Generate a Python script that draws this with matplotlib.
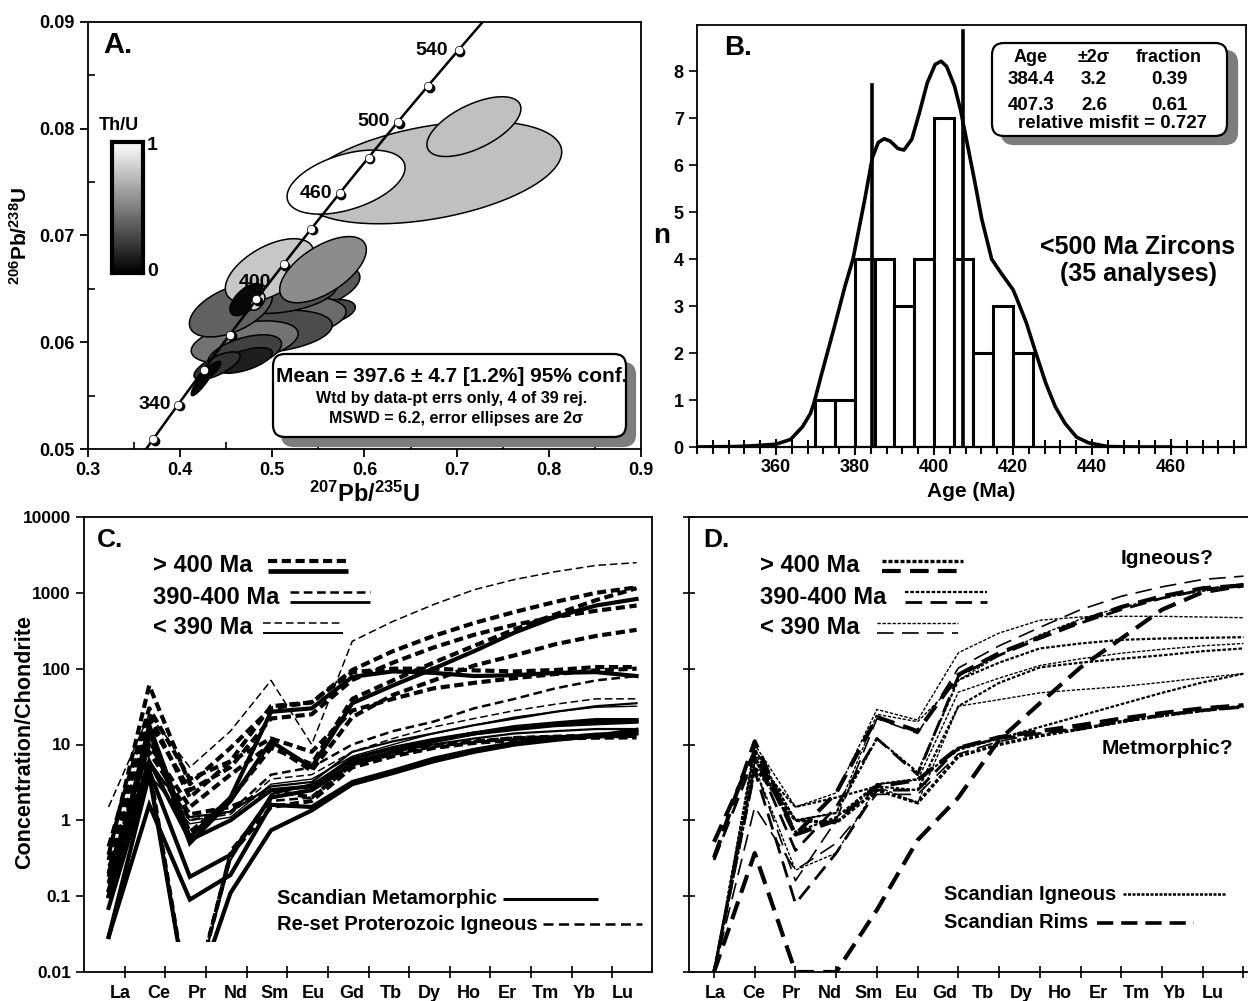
import numpy as np
import matplotlib
matplotlib.use("Agg")
import matplotlib.pyplot as plt
from matplotlib import transforms
from matplotlib.lines import Line2D
from matplotlib.patches import Polygon, FancyBboxPatch, Rectangle

plt.rcParams['font.family'] = ['Liberation Sans', 'DejaVu Sans']
plt.rcParams['font.weight'] = 'bold'
plt.rcParams['axes.labelweight'] = 'bold'
plt.rcParams['axes.linewidth'] = 1.3
plt.rcParams['mathtext.fontset'] = 'custom'
plt.rcParams['mathtext.rm'] = 'Liberation Sans:bold'
plt.rcParams['mathtext.default'] = 'rm'
NARROW = ['Liberation Sans', 'DejaVu Sans']

# ---------------- A: U-Pb concordia ----------------
# 207Pb/235U, 2s, 206Pb/238U, 2s, error correlation, Th/U
pb75 = [0.672, 0.7187, 0.580,
        0.545, 0.560, 0.505, 0.500, 0.470, 0.515, 0.455, 0.470, 0.470, 0.440, 0.432, 0.425,
        0.497, 0.555, 0.472, 0.484]
pb75_err = [0.142, 0.051, 0.064,
            0.050, 0.030, 0.075, 0.065, 0.058, 0.055, 0.045, 0.040, 0.030, 0.025, 0.012, 0.013,
            0.048, 0.047, 0.018, 0.008]
pb68 = [0.0759, 0.0802, 0.0750,
        0.0650, 0.0628, 0.0622, 0.0610, 0.0600, 0.0645, 0.0630, 0.0590, 0.0583, 0.0578, 0.0572, 0.0565,
        0.0667, 0.0668, 0.0640, 0.0638]
pb68_err = [0.0048, 0.0028, 0.0030,
            0.0022, 0.0012, 0.0022, 0.0020, 0.0020, 0.0018, 0.0025, 0.0017, 0.0012, 0.0013, 0.0010, 0.0015,
            0.0030, 0.0031, 0.0015, 0.0008]
rho = [0.4, 0.6, 0.45,
       0.5, 0.4, 0.3, 0.3, 0.4, 0.4, 0.5, 0.5, 0.6, 0.7, 0.85, 0.9,
       0.55, 0.6, 0.6, 0.5]
th_u = [0.75, 0.75, 1.0,
        0.35, 0.28, 0.42, 0.30, 0.45, 0.32, 0.38, 0.25, 0.12, 0.20, 0.02, 0.03,
        0.78, 0.55, 0.03, 0.85]

concordia_ages = [320, 340, 360, 380, 400, 420, 440, 460, 480, 500, 520, 540]
labelled_ages = [340, 400, 460, 500, 540]

mean_text = ["Mean = 397.6 \u00b1 4.7 [1.2%] 95% conf.",
             "Wtd by data-pt errs only, 4 of 39 rej.",
             "MSWD = 6.2, error ellipses are 2\u03c3"]

# ---------------- B: age histogram ----------------
bin_left = [370, 375, 380, 385, 390, 395, 400, 405, 410, 415, 420]
bin_count = [1, 1, 4, 4, 3, 4, 7, 4, 2, 3, 2]
pdf_age = [340, 350, 355, 360, 363.7, 366.7, 368.7, 369.6, 371.6, 374.6, 377.5, 379.5,
           382.5, 384.4, 385.9, 387.4, 388.9, 390.9, 392.4, 394.4, 396.3, 398.3, 400.3,
           401.8, 403.2, 405.2, 406.7, 408.2, 410.2, 412.1, 414.6, 417, 420, 421,
           423.4, 425.8, 428.3, 430.7, 433.2, 436.1, 439.1, 444, 450, 460]
pdf_n = [0, 0.01, 0.03, 0.06, 0.16, 0.43, 0.71, 0.93, 1.57, 2.5, 3.43, 4.0,
         5.28, 6.16, 6.48, 6.56, 6.51, 6.35, 6.32, 6.55, 7.11, 7.75, 8.14,
         8.21, 8.1, 7.68, 7.18, 6.55, 5.7, 4.85, 4.0, 3.7, 3.35, 3.15,
         2.64, 2.0, 1.36, 0.86, 0.5, 0.21, 0.09, 0.01, 0, 0]
peak_age = ['384.4', '407.3']
peak_err = ['3.2', '2.6']
peak_frac = ['0.39', '0.61']
peak_line_top = [7.7, 8.85]
misfit = 0.727

# ---------------- C / D: chondrite-normalised REE ----------------
ree = ['La', 'Ce', 'Pr', 'Nd', 'Sm', 'Eu', 'Gd', 'Tb', 'Dy', 'Ho', 'Er', 'Tm', 'Yb', 'Lu']

# C: style 's' = Scandian metamorphic, 'd' = re-set Proterozoic igneous; group 3 >400, 2 390-400, 1 <390 Ma
c_style = ['d', 'd', 's', 'd', 'd', 's', 'd', 'd', 'd', 'd', 's',
           's', 's', 's', 'd', 's', 'd', 's', 'd', 's', 'd']
c_group = [1, 3, 3, 3, 3, 3, 3, 3, 2, 1, 1,
           3, 3, 3, 3, 2, 2, 3, 3, 2, 3]
c_values = [
    [1.5, 25, 5.0, 15, 70, 10, 230, 420, 700, 1100, 1500, 1900, 2300, 2500],
    [0.35, 60, 3.0, 9, 30, 36, 96, 170, 270, 400, 560, 760, 1000, 1180],
    [0.1, 18, 0.6, 2.0, 27, 30, 78, 92, 88, 80, 82, 88, 90, 80],
    [0.3, 25, 2.0, 6, 32, 36, 90, 100, 100, 95, 92, 96, 105, 105],
    [0.2, 20, 2.5, 5, 22, 25, 71, 120, 190, 280, 380, 480, 580, 680],
    [0.1, 15, 0.5, 1.8, 11, 5.0, 35, 60, 100, 170, 300, 480, 680, 830],
    [0.18, 12, 0.7, 1.9, 9, 5.5, 40, 70, 120, 200, 330, 520, 800, 1150],
    [0.15, 10, 1.5, 4, 10, 4.5, 23, 45, 70, 110, 150, 210, 270, 325],
    [0.25, 6, 1.0, 1.3, 4, 5, 10, 15, 20, 30, 40, 55, 70, 80],
    [0.1, 4, 1.0, 1.2, 3.5, 4, 8, 12, 17, 22, 28, 34, 40, 40],
    [0.1, 4, 0.9, 1.1, 3, 3.5, 7, 10, 14, 18, 23, 27, 31, 32],
    [0.07, 4.5, 0.18, 0.35, 2.0, 2.5, 5.5, 8, 11, 14, 17, 19, 21, 21],
    [0.029, 1.6, 0.09, 0.19, 1.6, 1.5, 3.2, 4.5, 6.5, 8.5, 10.5, 12, 13.5, 14],
    [0.029, 4, 0.003, 0.11, 0.74, 1.35, 3.0, 4.2, 6, 8, 10, 11.5, 13, 15.6],
    [0.2, 5, 0.003, 0.35, 1.5, 1.8, 5, 7, 9, 10.5, 11.5, 12, 12.3, 12.4],
    [0.15, 5, 0.003, 0.3, 2.2, 3, 6, 8, 10, 12, 14, 15, 16, 16],
    [0.12, 4, 0.003, 0.4, 1.8, 2, 5.5, 7.5, 9.5, 11, 12.5, 13, 13.5, 13.5],
    [0.12, 6, 0.55, 1.0, 2.5, 2.8, 6.5, 9, 11.5, 14, 16, 18, 19, 20],
    [0.3, 8, 1.2, 1.5, 2.5, 2.0, 5.5, 7.5, 9.5, 11, 12, 12.5, 12.8, 13],
    [0.2, 6, 1.1, 1.3, 2.8, 3.2, 8, 11, 14, 18, 22, 27, 32, 35],
    [0.45, 30, 3.5, 6, 12, 8, 28, 40, 55, 65, 75, 85, 95, 100],
]
c_detect = 0.025  # values below this are not drawn

# D: style 'f' = Scandian igneous, 'l' = Scandian rims
d_style = ['l', 'f', 'l', 'f', 'f', 'f', 'f', 'f', 'l', 'l', 'f', 'l', 'l', 'l', 'f']
d_group = [1, 1, 3, 2, 1, 1, 2, 1, 2, 3, 3, 2, 1, 3, 2]
d_values = [
    [0.01, 5, 0.16, 1.0, 22, 14, 102, 200, 350, 600, 900, 1200, 1500, 1660],
    [0.01, 10, 1.5, 2.3, 29, 21, 162, 295, 435, 480, 490, 490, 480, 470],
    [0.52, 8, 0.65, 2.3, 23, 15, 83, 160, 260, 420, 650, 900, 1150, 1250],
    [0.01, 8, 1.0, 1.25, 12, 4.3, 71, 120, 185, 215, 240, 250, 255, 260],
    [0.01, 6, 1.0, 0.93, 3, 3.4, 49, 75, 110, 135, 160, 180, 200, 215],
    [0.01, 5, 0.22, 0.37, 2.8, 1.7, 32, 39, 48, 53, 58, 66, 76, 86],
    [0.01, 6, 1.5, 2.0, 2.8, 2.5, 32, 65, 104, 120, 135, 150, 170, 185],
    [0.01, 9, 1.0, 1.25, 25, 20, 70, 150, 280, 450, 650, 850, 1050, 1250],
    [0.3, 7, 0.4, 1.5, 12, 4, 80, 150, 250, 400, 600, 850, 1100, 1300],
    [0.32, 11, 0.65, 1.0, 2.8, 3.4, 9, 12.5, 15, 18, 22, 26, 30, 33],
    [0.01, 5, 1.0, 0.93, 2.5, 1.7, 7, 10, 13, 16, 20, 24, 28, 32],
    [0.01, 4.5, 0.08, 0.37, 2.5, 2.5, 9, 12, 14, 16, 20, 24, 28, 31],
    [0.01, 1.5, 0.22, 0.5, 2.2, 2.2, 7.5, 11, 14, 17, 21, 25, 29, 32],
    [0.01, 0.37, 0.01, 0.01, 0.066, 0.55, 2.0, 11.5, 35, 104, 250, 600, 1020, 1250],
    [0.01, 7, 0.7, 1.1, 3, 3.5, 8.5, 12, 17, 24, 34, 48, 66, 86],
]

# ---------------- layout helpers (pixel positions on a 1248 x 1001 canvas) ----------------
W, H = 1248, 1001
fig = plt.figure(figsize=(W / 100, H / 100), dpi=100)
PIX = transforms.IdentityTransform()


def fx(x):
    return x / W


def fy(y):
    return 1 - y / H


def rect(l, t, r, b):
    return [fx(l), fy(b), fx(r) - fx(l), fy(t) - fy(b)]


def ftext(x, y, s, **kw):
    kw.setdefault('zorder', 12)
    return fig.text(fx(x), fy(y), s, **kw)


def shadow_box(l, t, r, b, dx, dy, rad=12):
    for off, fc, ec in [((dx, dy), '#7d7d7d', '#7d7d7d'), ((0, 0), 'white', 'black')]:
        p = FancyBboxPatch((l + off[0], H - b - off[1]), r - l, b - t,
                           boxstyle=f"round,pad=0,rounding_size={rad}",
                           transform=PIX, fc=fc, ec=ec, lw=1.6, zorder=10)
        fig.add_artist(p)


def fig_line(x0, x1, y, **kw):
    fig.add_artist(Line2D([fx(x0), fx(x1)], [fy(y), fy(y)], transform=fig.transFigure,
                          color='black', solid_capstyle='butt', dash_capstyle='butt', **kw))


def ellipse_xy(x, sx, y, sy, r, n=120):
    t = np.linspace(0, 2 * np.pi, n)
    cov = np.array([[sx * sx, r * sx * sy], [r * sx * sy, sy * sy]])
    L = np.linalg.cholesky(cov)
    pts = L @ np.vstack([np.cos(t), np.sin(t)])
    return np.column_stack([x + pts[0], y + pts[1]])


# ================= Panel A =================
axA = fig.add_axes(rect(88, 22, 641, 449))
axA.set_xlim(0.3, 0.9)
axA.set_ylim(0.05, 0.09)
axA.set_xticks([0.3, 0.4, 0.5, 0.6, 0.7, 0.8, 0.9], ['0.3', '0.4', '0.5', '0.6', '0.7', '0.8', '0.9'])
axA.set_yticks([0.05, 0.06, 0.07, 0.08, 0.09], ['0.05', '0.06', '0.07', '0.08', '0.09'])
axA.set_xticks(np.arange(0.35, 0.9, 0.1), minor=True)
axA.set_yticks(np.arange(0.055, 0.09, 0.01), minor=True)
axA.tick_params(which='major', direction='out', length=6, width=1.3, labelsize=13)
axA.tick_params(which='minor', direction='in', length=5, width=1.2)

for i in range(len(pb75)):
    poly = Polygon(ellipse_xy(pb75[i], pb75_err[i], pb68[i], pb68_err[i], rho[i]),
                   closed=True, fc=plt.cm.gray(th_u[i]), ec='black', lw=1.1, zorder=2)
    axA.add_patch(poly)

# concordia from the 238U and 235U decay constants (per Ma)
lam238, lam235 = 1.55125e-4, 9.8485e-4
t_curve = np.linspace(300, 575, 300)
axA.plot(np.expm1(lam235 * t_curve), np.expm1(lam238 * t_curve), color='black', lw=1.8, zorder=4)
ages = np.array(concordia_ages, dtype=float)
cx, cy = np.expm1(lam235 * ages), np.expm1(lam238 * ages)
shadow_tr = transforms.offset_copy(axA.transData, fig=fig, x=1.8, y=-1.8, units='dots')
axA.plot(cx, cy, 'o', ms=6, color='black', transform=shadow_tr, zorder=5, ls='none')
axA.plot(cx, cy, 'o', ms=6, mfc='white', mec='black', mew=0.5, zorder=6, ls='none')
label_offsets = {340: (-5, 0, 'right'), 400: (-1, 12, 'center'), 460: (-5, 0, 'right'),
                 500: (-6, 0, 'right'), 540: (-8, 0, 'right')}
for a in labelled_ages:
    dx, dy, ha = label_offsets[a]
    axA.annotate(str(a), (np.expm1(lam235 * a), np.expm1(lam238 * a)),
                 xytext=(dx, dy), textcoords='offset points',
                 ha=ha, va='center', fontsize=14, fontweight='bold', zorder=7)

axA.set_xlabel(r'$^{207}$Pb/$^{235}$U', fontsize=17, labelpad=2)
axA.set_ylabel(r'$^{206}$Pb/$^{238}$U', fontsize=15, labelpad=6)
axA.text(0.028, 0.946, 'A.', transform=axA.transAxes, fontsize=21, fontweight='bold', va='center')

cax = fig.add_axes(rect(112, 142, 143, 273))
cax.imshow(np.linspace(0, 1, 256)[:, None], cmap='gray', aspect='auto', origin='lower', extent=[0, 1, 0, 1])
cax.set_xticks([])
cax.set_yticks([])
for s in cax.spines.values():
    s.set_linewidth(3)
ftext(119, 126, 'Th/U', fontsize=13, ha='center', va='center')
ftext(147, 145, '1', fontsize=14, ha='left', va='center')
ftext(147, 271, '0', fontsize=14, ha='left', va='center')

shadow_box(273, 354, 626, 437, 9, 9)
ftext(452, 377, mean_text[0], family=NARROW, fontsize=15, ha='center', va='center')
ftext(452, 398, mean_text[1], family=NARROW, fontsize=11.5, ha='center', va='center')
ftext(456, 418, mean_text[2], family=NARROW, fontsize=11.5, ha='center', va='center')

# ================= Panel B =================
axB = fig.add_axes(rect(697, 25, 1246, 447))
axB.set_xlim(340, 479)
axB.set_ylim(0, 8.98)
axB.bar(bin_left, bin_count, width=5, align='edge', fc='white', ec='black', lw=2.2, zorder=2)
axB.plot(pdf_age, pdf_n, color='black', lw=2.6, zorder=4, solid_joinstyle='round')
for a, top in zip(peak_age, peak_line_top):
    axB.plot([float(a), float(a)], [0, top], color='black', lw=2.6, zorder=5)
axB.set_yticks(range(0, 9))
axB.set_xticks([360, 380, 400, 420, 440, 460])
axB.set_xticks(np.arange(340, 480, 4), minor=True)
axB.tick_params(axis='y', direction='out', length=6, width=1.2, labelsize=13)
axB.tick_params(axis='x', which='major', direction='inout', length=11, width=1.5, labelsize=13)
axB.tick_params(axis='x', which='minor', direction='inout', length=10, width=1.5)
axB.spines['bottom'].set_linewidth(1.6)
axB.set_xlabel('Age (Ma)', fontsize=15, labelpad=4)
ftext(662, 236, 'n', fontsize=20, ha='center', va='center')
axB.text(0.05, 0.945, 'B.', transform=axB.transAxes, fontsize=20, fontweight='bold', va='center')

shadow_box(992, 43, 1227, 136, 10, 8)
cols = [1031, 1094, 1169]
ftext(cols[0], 57, 'Age', family=NARROW, fontsize=13, ha='center', va='center')
ftext(cols[1], 57, '\u00b12\u03c3', family=NARROW, fontsize=13, ha='center', va='center')
ftext(cols[2], 57, 'fraction', family=NARROW, fontsize=13, ha='center', va='center')
for row_y, a, e, f in zip([80, 105], peak_age, peak_err, peak_frac):
    ftext(cols[0], row_y, a, family=NARROW, fontsize=13.5, ha='center', va='center')
    ftext(cols[1], row_y, e, family=NARROW, fontsize=13.5, ha='center', va='center')
    ftext(cols[2], row_y, f, family=NARROW, fontsize=13.5, ha='center', va='center')
ftext(1112, 124, f'relative misfit = {misfit:.3f}', family=NARROW, fontsize=13.5, ha='center', va='center')
ftext(1138, 247, '<500 Ma Zircons', family=NARROW, fontsize=18, ha='center', va='center')
ftext(1138, 274, '(35 analyses)', family=NARROW, fontsize=18, ha='center', va='center')

# ================= Panels C and D =================
c_style_kw = {
    ('s', 3): dict(lw=3.0, ls='-'),
    ('s', 2): dict(lw=1.6, ls='-'),
    ('s', 1): dict(lw=1.0, ls='-'),
    ('d', 3): dict(lw=3.0, ls=(0, (2.2, 1.1))),
    ('d', 2): dict(lw=1.8, ls=(0, (3.5, 1.8))),
    ('d', 1): dict(lw=1.1, ls=(0, (5, 2.5))),
}
d_style_kw = {
    ('f', 3): dict(lw=2.4, ls=(0, (1.2, 0.6))),
    ('f', 2): dict(lw=1.6, ls=(0, (1.6, 0.8))),
    ('f', 1): dict(lw=1.0, ls=(0, (2.4, 1.2))),
    ('l', 3): dict(lw=3.0, ls=(0, (4.5, 2.2))),
    ('l', 2): dict(lw=2.0, ls=(0, (6, 3))),
    ('l', 1): dict(lw=1.2, ls=(0, (10, 5))),
}
x_idx = np.arange(len(ree))


def ree_axes(ax, tick_pos, label_pos, xlim):
    ax.set_yscale('log')
    ax.set_ylim(0.01, 10000)
    ax.set_xlim(*xlim)
    ax.set_xticks(label_pos, ree)
    ax.set_xticks(tick_pos, minor=True)
    ax.tick_params(axis='x', which='major', length=0, labelsize=13, pad=9)
    ax.tick_params(axis='x', which='minor', direction='inout', length=8, width=1.2)
    ax.tick_params(axis='y', which='minor', length=0)


axC = fig.add_axes(rect(84, 517, 652, 972))
ree_axes(axC, np.arange(13) + 0.4, 0.28 + 0.953 * x_idx, (-0.606, 13.38))
axC.set_yticks([0.01, 0.1, 1, 10, 100, 1000, 10000], ['0.01', '0.1', '1', '10', '100', '1000', '10000'])
axC.tick_params(axis='y', which='major', direction='out', length=6, width=1.2, labelsize=12.5)
ftext(25, 742, 'Concentration/Chondrite', fontsize=15.5, rotation=90, ha='center', va='center')
clipC = Rectangle((-1, c_detect), 16, 1e6, transform=axC.transData)
for vals, st, g in zip(c_values, c_style, c_group):
    ln, = axC.plot(x_idx, vals, color='black', solid_joinstyle='miter', **c_style_kw[(st, g)])
    ln.set_clip_path(clipC)
axC.text(0.023, 0.95, 'C.', transform=axC.transAxes, fontsize=19, fontweight='bold', va='center')

axD = fig.add_axes(rect(689, 517, 1250, 972))
ree_axes(axD, x_idx, 0.03 + 0.94 * x_idx, (-0.614, 13.16))
axD.set_yticks([0.01, 0.1, 1, 10, 100, 1000, 10000], [''] * 7)
axD.tick_params(axis='y', which='major', direction='inout', length=9, width=1.2)
axD.spines['right'].set_visible(False)
for vals, st, g in zip(d_values, d_style, d_group):
    axD.plot(x_idx, vals, color='black', **d_style_kw[(st, g)])
axD.text(0.025, 0.95, 'D.', transform=axD.transAxes, fontsize=19, fontweight='bold', va='center')

# age-group keys
for (ty, label, lx0, lx1), g in zip([(566, '> 400 Ma', 268, 348), (597, '390-400 Ma', 290, 370),
                                     (628, '< 390 Ma', 263, 343)], [3, 2, 1]):
    ftext(153, ty, label, family=NARROW, fontsize=17, ha='left', va='center')
    fig_line(lx0, lx1, ty - 5, **c_style_kw[('d', g)])
    fig_line(lx0, lx1, ty + 5, **{**c_style_kw[('s', g)], 'lw': c_style_kw[('s', g)]['lw'] + 0.4})
for (ty, label, lx0, lx1), g in zip([(566, '> 400 Ma', 882, 963), (597, '390-400 Ma', 905, 987),
                                     (628, '< 390 Ma', 877, 958)], [3, 2, 1]):
    ftext(760, ty, label, family=NARROW, fontsize=17, ha='left', va='center')
    fig_line(lx0, lx1, ty - 5, **d_style_kw[('f', g)])
    fig_line(lx0, lx1, ty + 5, **d_style_kw[('l', g)])

ftext(277, 899, 'Scandian Metamorphic', family=NARROW, fontsize=14.5, ha='left', va='center')
fig_line(503, 598, 899, lw=2.2, ls='-')
ftext(277, 924, 'Re-set Proterozoic Igneous', family=NARROW, fontsize=14.5, ha='left', va='center')
fig_line(543, 642, 924, lw=1.8, ls=(0, (4, 2.2)))

ftext(944, 894, 'Scandian Igneous', family=NARROW, fontsize=14.5, ha='left', va='center')
fig_line(1123, 1225, 894, lw=1.8, ls=(0, (1.2, 0.6)))
ftext(944, 923, 'Scandian Rims', family=NARROW, fontsize=14.5, ha='left', va='center')
fig_line(1097, 1194, 923, lw=2.6, ls=(0, (4.5, 2.2)))

ftext(1167, 559, 'Igneous?', family=NARROW, fontsize=15, ha='center', va='center')
ftext(1167, 748, 'Metmorphic?', family=NARROW, fontsize=15, ha='center', va='center')

fig.savefig('out.png', dpi=100, facecolor='white')
